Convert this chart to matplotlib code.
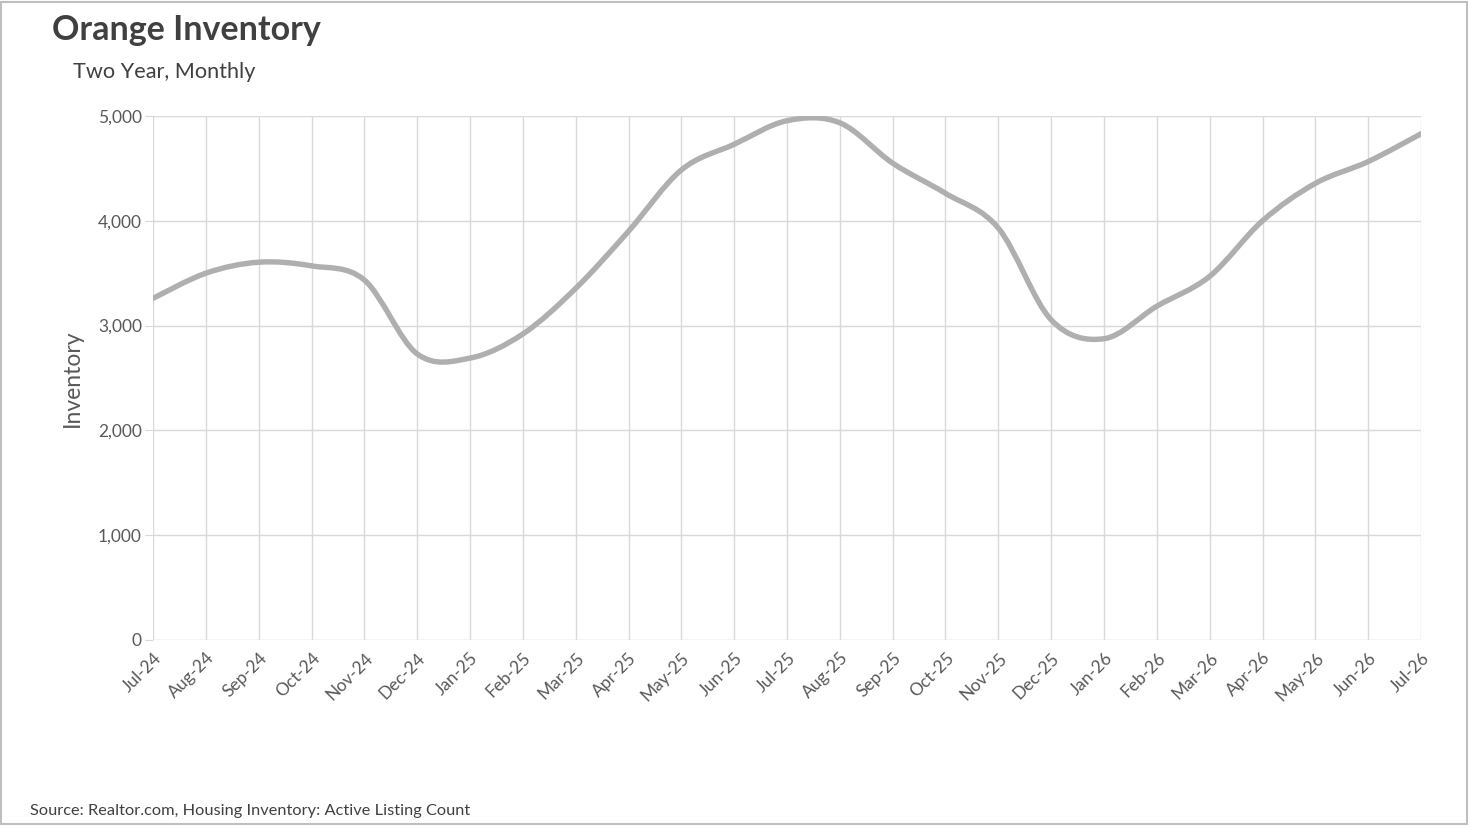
import numpy as np
import matplotlib.pyplot as plt
from matplotlib.path import Path
from matplotlib.patches import PathPatch, Rectangle

plt.rcParams['font.family'] = ['Lato', 'DejaVu Sans']

# data
months = ['Jul-24', 'Aug-24', 'Sep-24', 'Oct-24', 'Nov-24', 'Dec-24', 'Jan-25',
          'Feb-25', 'Mar-25', 'Apr-25', 'May-25', 'Jun-25', 'Jul-25', 'Aug-25',
          'Sep-25', 'Oct-25', 'Nov-25', 'Dec-25', 'Jan-26', 'Feb-26', 'Mar-26',
          'Apr-26', 'May-26', 'Jun-26', 'Jul-26']
inventory = [3260, 3500, 3605, 3570, 3435, 2730, 2690,
             2920, 3355, 3900, 4485, 4730, 4955, 4935,
             4550, 4262, 3930, 3055, 2875, 3185, 3470,
             4000, 4357, 4565, 4830]
y_ticks = [0, 1000, 2000, 3000, 4000, 5000]


def smooth_path(x, y):
    # Excel style smoothed line: bezier segments with catmull-rom handles
    n = len(x)
    pts = np.column_stack([x, y]).astype(float)
    verts = [pts[0]]
    codes = [Path.MOVETO]
    for i in range(n - 1):
        p0 = pts[max(i - 1, 0)]
        p1 = pts[i]
        p2 = pts[i + 1]
        p3 = pts[min(i + 2, n - 1)]
        verts += [p1 + (p2 - p0) / 6, p2 - (p3 - p1) / 6, p2]
        codes += [Path.CURVE4] * 3
    return Path(verts, codes)


fig = plt.figure(figsize=(14.7, 8.26), dpi=100)
ax = fig.add_axes([153 / 1470, 1 - 640 / 826, 1268 / 1470, 524 / 826])

x = np.arange(len(months))
ax.add_patch(PathPatch(smooth_path(x, inventory), fill=False,
                       edgecolor='#afafaf', lw=3.9, capstyle='round',
                       joinstyle='round', zorder=3))

ax.set_xlim(0, len(months) - 1)
ax.set_ylim(0, 5000)
ax.set_xticks(x)
ax.set_xticklabels(months, rotation=45, ha='right', rotation_mode='anchor',
                   fontsize=12.5, color='#595959')
ax.set_yticks(y_ticks)
ax.set_yticklabels([f'{v:,}' for v in y_ticks], fontsize=12.5, color='#595959')
ax.tick_params(axis='x', length=0, pad=7)
ax.tick_params(axis='y', length=6, color='#d9d9d9', pad=2)
ax.grid(True, color='#d9d9d9', lw=1)
ax.set_axisbelow(True)
for s in ax.spines.values():
    s.set_visible(False)
ax.axhline(0, color='#eeeeee', lw=1, zorder=1)

ax.set_ylabel('Inventory', fontsize=16.5, color='#595959', labelpad=11)

fig.text(52 / 1470, 1 - 30 / 826, 'Orange Inventory', fontsize=24.5,
         fontweight='bold', color='#404040', va='center', ha='left')
fig.text(73 / 1470, 1 - 72 / 826, 'Two Year, Monthly', fontsize=15.6,
         color='#404040', va='center', ha='left')
fig.text(30 / 1470, 1 - 811 / 826,
         'Source: Realtor.com, Housing Inventory: Active Listing Count',
         fontsize=11.8, color='#404040', va='center', ha='left')

fig.patches.append(Rectangle((0.001, 0.002), 0.997, 0.995, fill=False,
                             edgecolor='#bfbfbf', lw=1.5,
                             transform=fig.transFigure, figure=fig))

fig.savefig('out.png', dpi=100)
